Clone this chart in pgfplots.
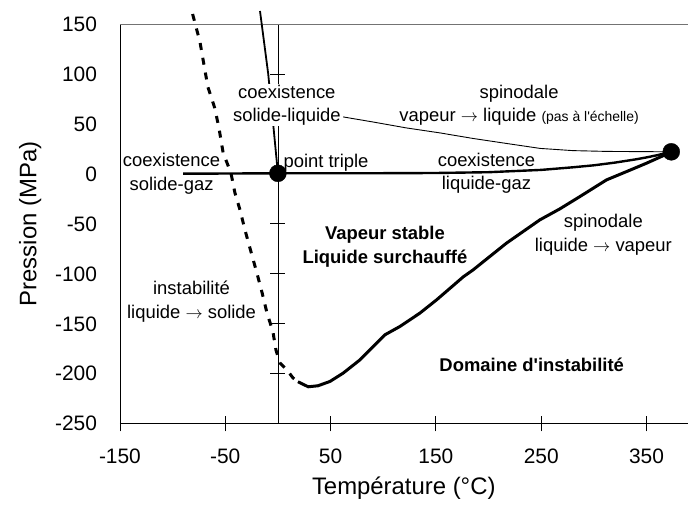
\documentclass[border=0pt]{standalone}
\usepackage{pgfplots}
\pgfplotsset{compat=1.18}
\usepackage{fontspec}
\setmainfont{Liberation Sans}
\newcommand\ann{\fontsize{18.5}{23.5}\selectfont}

\begin{document}
\begin{tikzpicture}
\begin{axis}[
  scale only axis, width=568bp, height=400bp,
  xmin=-150, xmax=389, ymin=-250, ymax=150,
  axis x line*=bottom, axis y line*=middle,
  hide obscured x ticks=false, hide obscured y ticks=false,
  axis line style={line width=0.8bp},
  xtick={-150,-50,...,350}, ytick={-250,-200,...,150},
  tick style={black, line width=0.8bp},
  tick align=center, major tick length=15bp,
  tick label style={font=\fontsize{21}{21}\selectfont},
  /pgf/number format/assume math mode=true,
  yticklabel style={anchor=east, xshift=-170bp},
  xticklabel style={yshift=-14bp},
  xlabel={Température (°C)}, ylabel={Pression (MPa)},
  label style={font=\fontsize{24}{24}\selectfont},
  xlabel style={at={(axis description cs:0.5,-0.16)}, anchor=center},
  ylabel style={at={(axis description cs:-0.158,0.5)}, anchor=center, rotate=0},
  clip=false,
]
% plot-area border: left and top
\draw[line width=0.8bp] (rel axis cs:0,0) -- (rel axis cs:0,1);
\draw[black!55, line width=0.8bp] (rel axis cs:0,1) -- (rel axis cs:1,1);

% coexistence solide-gaz
\addplot[black, line width=2.4bp] coordinates {(-90,0.2) (0,0.6)};
% coexistence liquide-gaz
\addplot[black, line width=2.4bp] coordinates {(0,0.6) (50,0.6) (100,0.7) (150,0.9) (200,1.7) (250,4) (280,6.6) (300,8.6) (320,11.3) (340,14.6) (350,16.5) (360,18.7) (374,22.1)};
% coexistence solide-liquide
\addplot[black, line width=1.8bp] coordinates {(0,0.6) (-4.5,50) (-9.2,100) (-17,163)};
% instabilite liquide -> solide (dashed)
\addplot[black, line width=3bp, dash pattern=on 7bp off 8bp] coordinates {(-81,160) (-74,132) (-66.5,87) (-60,66) (-56,46) (-52,21) (-44.6,1) (-40.8,-19) (-36,-36) (-31.3,-56) (-26.6,-74) (-20,-99) (-15,-119) (-10.4,-139) (-4.7,-158) (-1.9,-176) (1.9,-189) (8.5,-196) (14.2,-204) (19,-208)};
% spinodale liquide -> vapeur
\addplot[black, line width=3bp] coordinates {(19,-208) (28.8,-213) (38,-212) (49.4,-207.7) (62,-199.3) (78,-186) (90.5,-172.7) (101.6,-161) (115.8,-152.7) (134.8,-139.3) (150.7,-126) (176,-103) (185.4,-96) (217,-69.3) (248.7,-46) (267.7,-35) (286.7,-22.7) (312,-6) (331,2.3) (350,10.7) (374,22.1)};
% spinodale vapeur -> liquide (thin)
\addplot[black, line width=0.9bp] coordinates {(62,57) (90,52) (122,46) (154,41) (185,35.5) (220,30) (249,25.5) (280,23.3) (312,22.5) (374,22.1)};
% point triple, point critique
\addplot[only marks, mark=*, mark size=8.5bp, black] coordinates {(0,0.6) (373.5,22.1)};

\node[align=center, font=\ann] at (axis cs:-101,0) {coexistence\\solide-gaz};
\node[align=center, font=\ann, fill=white, inner sep=1bp] at (axis cs:8.5,69) {coexistence\\solide-liquide};
\node[anchor=west, font=\ann] at (axis cs:2,11) {point triple};
\node[align=center, font=\ann] at (axis cs:229,69) {spinodale\\vapeur $\rightarrow$ liquide {\fontsize{14}{14}\selectfont (pas à l\textquotesingle échelle)}};
\node[align=center, font=\ann] at (axis cs:198,0.5) {coexistence\\liquide-gaz};
\node[align=center, font=\ann] at (axis cs:309,-61) {spinodale\\liquide $\rightarrow$ vapeur};
\node[align=center, font=\ann\bfseries] at (axis cs:101.6,-73) {Vapeur stable\\Liquide surchauffé};
\node[font=\ann\bfseries] at (axis cs:241,-191) {Domaine d\textquotesingle instabilité};
\node[align=center, font=\ann] at (axis cs:-82,-128) {instabilité\\liquide $\rightarrow$ solide};

\path[draw=none] (rel axis cs:0,0) ++(-120bp,-82bp) coordinate (bbA);
\path[draw=none] (rel axis cs:0,1) ++(568bp,24bp) coordinate (bbB);
\path (bbA) rectangle (bbB);
\end{axis}
\end{tikzpicture}
\end{document}
